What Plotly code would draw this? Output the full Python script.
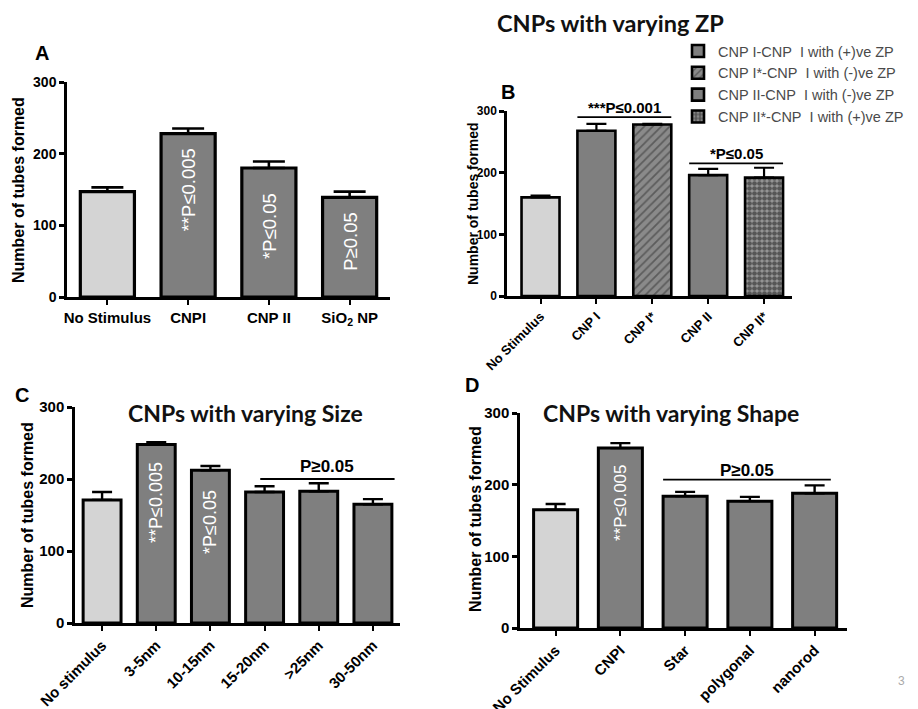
import plotly.graph_objects as go

# ---------------- data ----------------
cats_a = ["No Stimulus", "CNPI", "CNP II", "SiO<sub>2</sub> NP"]
vals_a = [147, 228, 180, 139]
errs_a = [6, 7, 9, 8]
sig_a = ["", "**P≤0.005", "*P≤0.05", "P≥0.05"]

cats_b = ["No Stimulus", "CNP I", "CNP I*", "CNP II", "CNP II*"]
vals_b = [160, 268, 278, 196, 192]
errs_b = [3, 11, 1, 10, 16]
legend_b = ["No Stimulus", "CNP I-CNP\u00a0\u00a0I with (+)ve ZP", "CNP I*-CNP\u00a0\u00a0I with (-)ve ZP",
            "CNP II-CNP\u00a0\u00a0I with (-)ve ZP", "CNP II*-CNP\u00a0\u00a0I with (+)ve ZP"]

cats_c = ["No stimulus", "3-5nm", "10-15nm", "15-20nm", ">25nm", "30-50nm"]
vals_c = [171, 248, 212, 182, 183, 165]
errs_c = [11, 3, 6, 8, 11, 7]
sig_c = ["", "**P≤0.005", "*P≤0.05", "", "", ""]

cats_d = ["No Stimulus", "CNPI", "Star", "polygonal", "nanorod"]
vals_d = [165, 251, 184, 177, 188]
errs_d = [8, 7, 6, 6, 11]
sig_d = ["", "**P≤0.005", "", "", ""]

yticks = [0, 100, 200, 300]

LIGHT = "#d4d4d4"
DARK = "#7f7f7f"
FONT = "Liberation Sans"
TFONT = "Lato"
OFF = 8                      # default page body margin
W, H = 918 - OFF, 709 - OFF  # figure size so that it fits the window


def fx(p):
    return (p - OFF) / W


def fy(p):
    return 1 - (p - OFF) / H


fig = go.Figure()

panels = {
    "a": dict(x=[fx(67), fx(390)], y=[fy(297), fy(82)], rng=[-0.5, 3.5]),
    "b": dict(x=[fx(507), fx(792)], y=[fy(296), fy(111)], rng=[-0.6, 4.5]),
    "c": dict(x=[fx(75), fx(400)], y=[fy(623), fy(407)], rng=[-0.5, 5.5]),
    "d": dict(x=[fx(520), fx(847)], y=[fy(628), fy(413)], rng=[-0.55, 4.5]),
}
axis_ids = {"a": ("x", "y"), "b": ("x2", "y2"), "c": ("x3", "y3"), "d": ("x4", "y4")}


def add_bars(key, cats, vals, errs, width, lw, capw):
    xa, ya = axis_ids[key]
    colors = [LIGHT] + [DARK] * (len(cats) - 1)
    fig.add_trace(go.Bar(
        x=list(range(len(cats))), y=vals, width=width, xaxis=xa, yaxis=ya,
        marker=dict(color=colors, line=dict(color="black", width=lw)),
        error_y=dict(type="data", symmetric=False, array=errs, arrayminus=[0] * len(cats),
                     color="black", thickness=lw * 0.8, width=capw),
        name="panel " + key, showlegend=False, hoverinfo="skip"))


add_bars("a", cats_a, vals_a, errs_a, 0.67, 3.2, 16)
add_bars("c", cats_c, vals_c, errs_c, 0.7, 3, 10)
add_bars("d", cats_d, vals_d, errs_d, 0.68, 3, 10)

# panel B: individual traces for legend + patterns
patterns_b = [None, None, dict(shape="/", fgcolor="#2e2e2e", bgcolor="#8a8a8a", size=6, solidity=0.3),
              None, dict(shape=".", fgcolor="#111111", bgcolor="#9a9a9a", size=5, solidity=0.7)]
for i, c in enumerate(cats_b):
    m = dict(color=LIGHT if i == 0 else DARK, line=dict(color="black", width=2.6))
    if patterns_b[i] is not None:
        m["pattern"] = patterns_b[i]
    fig.add_trace(go.Bar(
        x=[i], y=[vals_b[i]], width=0.68, xaxis="x2", yaxis="y2", marker=m,
        error_y=dict(type="data", symmetric=False, array=[errs_b[i]], arrayminus=[0],
                     color="black", thickness=2.2, width=10),
        name=legend_b[i], showlegend=(i > 0), hoverinfo="skip"))

layout = dict(
    width=W, height=H, margin=dict(l=0, r=0, t=0, b=0, autoexpand=False),
    paper_bgcolor="white", plot_bgcolor="white", barmode="overlay",
    legend=dict(x=fx(678), y=fy(35), xanchor="left", yanchor="top",
                font=dict(family=FONT, size=14.5, color="#4a4a4a"),
                traceorder="normal", bgcolor="rgba(0,0,0,0)", itemclick=False),
)


def xax(key, cats, size, angle):
    p = panels[key]
    return dict(domain=p["x"], range=p["rng"], anchor=axis_ids[key][1], automargin=False,
                tickvals=list(range(len(cats))), ticktext=cats, tickangle=angle,
                showline=True, linecolor="black", linewidth=2.5, ticks="outside",
                ticklen=5, tickwidth=2, tickcolor="black", showgrid=False, zeroline=False,
                tickfont=dict(family=FONT, size=size, color="black", weight="bold"))


def yax(key, size):
    p = panels[key]
    return dict(domain=p["y"], range=[0, 300], anchor=axis_ids[key][0], automargin=False,
                tickvals=yticks, showline=True, linecolor="black", linewidth=2.5,
                ticks="outside", ticklen=5, tickwidth=2.5, tickcolor="black",
                showgrid=False, zeroline=False,
                tickfont=dict(family=FONT, size=size, color="black", weight="bold"))


layout["xaxis"] = xax("a", cats_a, 15, 0)
layout["yaxis"] = yax("a", 14)
layout["xaxis2"] = xax("b", cats_b, 13, -45)
layout["yaxis2"] = yax("b", 12)
layout["xaxis3"] = xax("c", cats_c, 15, -45)
layout["yaxis3"] = yax("c", 15)
layout["xaxis4"] = xax("d", cats_d, 15, -45)
layout["yaxis4"] = yax("d", 15)
fig.update_layout(**layout)

ann = []
shapes = []

# y titles
for (xp, yc, size) in [(18, 190, 16), (473, 203, 14), (27, 515, 16), (475, 519, 16)]:
    ann.append(dict(text="Number of tubes formed", x=fx(xp), y=fy(yc), xref="paper", yref="paper",
                    textangle=-90, showarrow=False, xanchor="center", yanchor="middle",
                    font=dict(family=FONT, size=size, color="black", weight="bold")))

# panel letters
for (t, xp, yp) in [("A", 42, 53), ("B", 508, 92), ("C", 22, 395), ("D", 472, 385)]:
    ann.append(dict(text=t, x=fx(xp), y=fy(yp), xref="paper", yref="paper", showarrow=False,
                    xanchor="center", yanchor="middle",
                    font=dict(family=FONT, size=20, color="black", weight="bold")))

# titles
for (t, xp, yp, size) in [("CNPs with varying ZP", 610, 23, 23.5),
                          ("CNPs with varying Size", 245, 413, 23),
                          ("CNPs with varying Shape", 671, 413, 23)]:
    ann.append(dict(text=t, x=fx(xp), y=fy(yp), xref="paper", yref="paper", showarrow=False,
                    xanchor="center", yanchor="middle",
                    font=dict(family=TFONT, size=size, color="#111111", weight="bold")))


# in-bar significance text
def inbar(key, texts, ypos, size):
    xa, ya = axis_ids[key]
    for i, t in enumerate(texts):
        if t:
            ann.append(dict(text=t, x=i, y=ypos[i], xref=xa, yref=ya, textangle=-90,
                            showarrow=False, xanchor="center", yanchor="middle",
                            font=dict(family=FONT, size=size, color="white")))


inbar("a", sig_a, [0, 149, 99, 78], 18.5)
inbar("c", sig_c, [0, 167, 141, 0, 0, 0], 18)
inbar("d", sig_d, [0, 175, 0, 0, 0], 17)


# significance brackets (label placed in the axis' domain coordinates so it is never clipped)
def bracket(key, x0, x1, y, text, ty, size):
    xa, ya = axis_ids[key]
    shapes.append(dict(type="line", xref=xa, yref=ya, x0=x0, x1=x1, y0=y, y1=y,
                       line=dict(color="black", width=1.8)))
    ann.append(dict(text=text, x=(x0 + x1) / 2, y=ty / 300, xref=xa, yref=ya + " domain",
                    showarrow=False, xanchor="center", yanchor="middle",
                    font=dict(family=FONT, size=size, color="black", weight="bold")))


bracket("b", 0.66, 2.34, 290, "***P≤0.001", 305, 15)
bracket("b", 2.66, 4.34, 215, "*P≤0.05", 231, 15)
bracket("c", 2.92, 5.4, 200, "P≥0.05", 217, 17)
bracket("d", 1.66, 4.25, 207, "P≥0.05", 220, 17)

# page number
ann.append(dict(text="3", x=fx(907), y=fy(690), xref="paper", yref="paper", showarrow=False,
                font=dict(family=FONT, size=12, color="#aaaaaa")))

fig.update_layout(annotations=ann, shapes=shapes)
fig.write_html("out.html")
